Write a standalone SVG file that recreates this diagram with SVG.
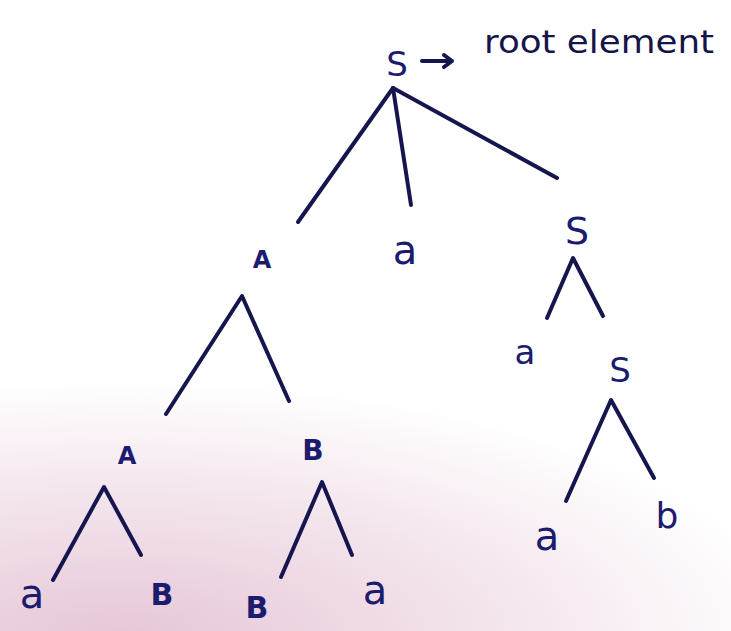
<svg xmlns="http://www.w3.org/2000/svg" width="731" height="631" viewBox="0 0 731 631">
<defs>
<radialGradient id="bg" gradientUnits="userSpaceOnUse" cx="120" cy="640" r="260" gradientTransform="translate(120 640) scale(2.6 1) translate(-120 -640)">
<stop offset="0" stop-color="#e6c6d8"/>
<stop offset="0.55" stop-color="#f3e4ec"/>
<stop offset="1" stop-color="#ffffff"/>
</radialGradient>
<style>
.t{font-family:"DejaVu Sans",sans-serif;fill:#1c1c6e;text-anchor:middle}
.lb{font-family:"DejaVu Sans",sans-serif;fill:#15154a}
.e{stroke:#16164f;stroke-width:4;fill:none;stroke-linecap:round;stroke-linejoin:round}
</style>
</defs>
<rect width="731" height="631" fill="#ffffff"/>
<rect width="731" height="631" fill="url(#bg)"/>
<g id="connectors">
<path class="e" d="M393 88 L298 222"/>
<path class="e" d="M393 88 L411 205"/>
<path class="e" d="M393 88 L557 178"/>
<path class="e" d="M166 414 L242 296 L289 401"/>
<path class="e" d="M547 318 L573 258 L603 316"/>
<path class="e" d="M566 501 L611 400 L654 478"/>
<path class="e" d="M53 580 L104 487 L141 555"/>
<path class="e" d="M281 577 L322 482 L352 555"/>
<path class="e" d="M422 61 L452 61 M444 55 L452 61 L444 67" stroke-width="2.5"/>
</g>
<g id="root"><text class="t" x="397" y="76" font-size="34">S</text></g>
<g id="root-label"><text class="lb" x="484" y="53" font-size="32" textLength="230" lengthAdjust="spacingAndGlyphs">root element</text></g>
<g id="A1"><text class="t" x="262" y="268" font-size="24" font-weight="bold">A</text></g>
<g id="a1"><text class="t" x="405" y="264" font-size="40">a</text></g>
<g id="S1"><text class="t" x="577" y="244" font-size="38">S</text></g>
<g id="a2"><text class="t" x="525" y="364" font-size="34">a</text></g>
<g id="S2"><text class="t" x="620" y="382" font-size="34">S</text></g>
<g id="a3"><text class="t" x="547" y="550" font-size="40">a</text></g>
<g id="b1"><text class="t" x="667" y="528" font-size="36">b</text></g>
<g id="A2"><text class="t" x="127" y="464" font-size="24" font-weight="bold">A</text></g>
<g id="a4"><text class="t" x="32" y="608" font-size="40">a</text></g>
<g id="B1"><text class="t" x="162" y="605" font-size="30" font-weight="bold">B</text></g>
<g id="B2"><text class="t" x="313" y="460" font-size="28" font-weight="bold">B</text></g>
<g id="B3"><text class="t" x="257" y="618" font-size="30" font-weight="bold">B</text></g>
<g id="a5"><text class="t" x="375" y="604" font-size="40">a</text></g>
</svg>
